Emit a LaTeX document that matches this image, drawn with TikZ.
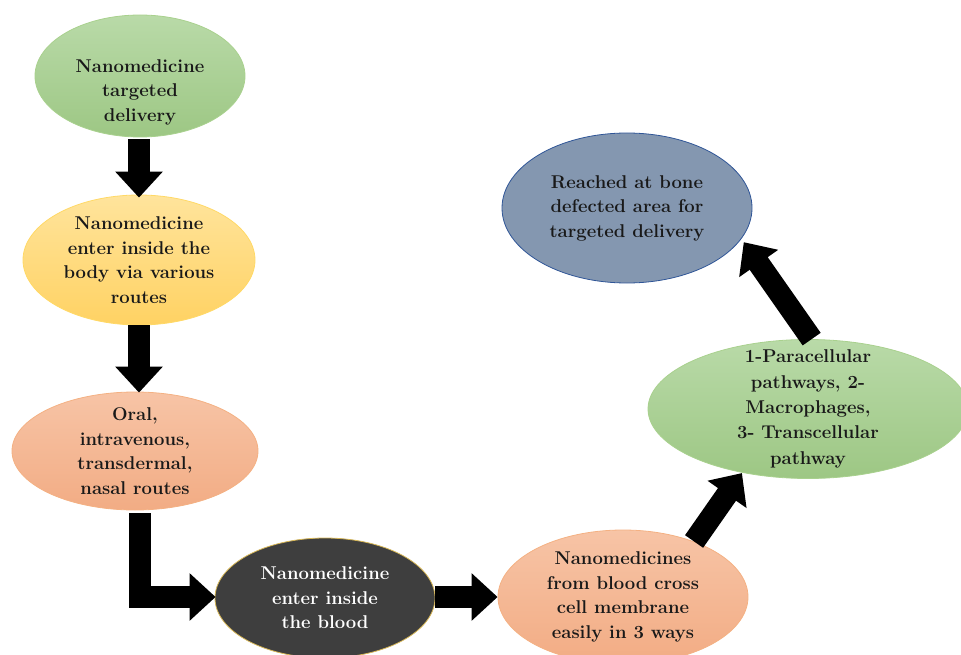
\documentclass[tikz,border=0pt]{standalone}
\usetikzlibrary{arrows.meta,shapes.geometric,calc}
\definecolor{gtop}{HTML}{B9DAA8}
\definecolor{gbot}{HTML}{9DC784}
\definecolor{gline}{HTML}{A9D18E}
\definecolor{ytop}{HTML}{FFE49C}
\definecolor{ybot}{HTML}{FFD263}
\definecolor{yline}{HTML}{FFD966}
\definecolor{stop}{HTML}{F7C4A6}
\definecolor{sbot}{HTML}{F2AC84}
\definecolor{sline}{HTML}{F4B183}
\definecolor{dfill}{HTML}{3E3E3E}
\definecolor{dline}{HTML}{D6B656}
\definecolor{bfill}{HTML}{8497B0}
\definecolor{bline}{HTML}{2F5597}
\begin{document}
\begin{tikzpicture}[x=1pt,y=-1pt,
  txt/.style={inner sep=0pt, align=center, font=\fontsize{18.5}{24.5}\selectfont\bfseries, text=black!90},
  ell/.style={ellipse, txt, inner ysep=-18pt, line width=0.8pt},
  greenell/.style={ell, draw=gline, top color=gtop, bottom color=gbot},
  yellowell/.style={ell, draw=yline, top color=ytop, bottom color=ybot},
  salmonell/.style={ell, draw=sline, top color=stop, bottom color=sbot},
  blk/.style={line width=22pt, -{Triangle[width=46pt,length=26pt]}, black}]
\useasboundingbox (0,0) rectangle (961,655);
\node[greenell, minimum width=210pt, minimum height=122pt] (g1) at (140,76) {};
\node[txt] (g1t) at (140,92) {Nanomedicine\\targeted\\delivery};
\node[yellowell, minimum width=232pt, minimum height=130pt] (y1) at (139,260) {Nanomedicine\\enter inside the\\body via various\\routes};
\node[salmonell, minimum width=246pt, minimum height=118pt] (s1) at (135,451) {Oral,\\intravenous,\\transdermal,\\nasal routes};
\node[ell, fill=dfill, draw=dline, text=white, minimum width=220pt, minimum height=120pt] (d1) at (325,598) {Nanomedicine\\enter inside\\the blood};
\node[salmonell, minimum width=250pt, minimum height=134pt] (s2) at (623,597) {Nanomedicines\\from blood cross\\cell membrane\\easily in 3 ways};
\node[greenell, font=\fontsize{18.5}{25.3}\selectfont\bfseries, minimum width=320pt, minimum height=139pt] (g2) at (808,409) {1-Paracellular\\pathways, 2-\\Macrophages,\\3- Transcellular\\pathway};
\node[ell, fill=bfill, draw=bline, minimum width=250pt, minimum height=150pt] (b1) at (627,208) {Reached at bone\\defected area for\\targeted delivery};
\draw[blk] ([yshift=-2pt]y1.north |- g1.south) -- ([yshift=-3pt]y1.north);
\draw[blk] (y1.south) -- ([yshift=-1pt]y1.south |- s1.north);
\draw[blk] ([xshift=5pt,yshift=-3pt]s1.south) |- ([xshift=1pt,yshift=1pt]d1.west);
\draw[blk] ([yshift=1pt]d1.east) -- (s2.west);
\draw[blk] (s2.38) -- ([xshift=-2pt]g2.225);
\draw[blk] (g2.87) -- ([xshift=5pt]b1.-17);
\end{tikzpicture}
\end{document}
